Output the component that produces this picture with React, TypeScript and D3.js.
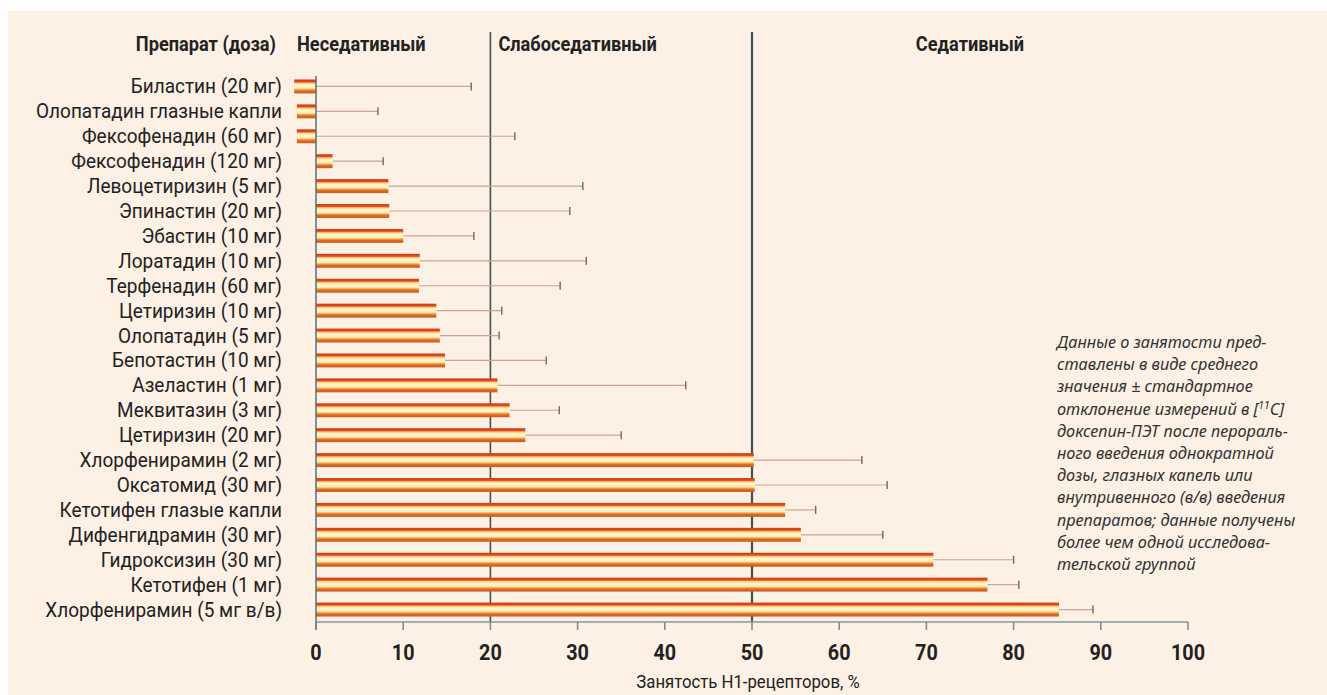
import React from 'react';
import * as d3 from 'd3';

const drugs = [
  'Биластин (20 мг)',
  'Олопатадин глазные капли',
  'Фексофенадин (60 мг)',
  'Фексофенадин (120 мг)',
  'Левоцетиризин (5 мг)',
  'Эпинастин (20 мг)',
  'Эбастин (10 мг)',
  'Лоратадин (10 мг)',
  'Терфенадин (60 мг)',
  'Цетиризин (10 мг)',
  'Олопатадин (5 мг)',
  'Бепотастин (10 мг)',
  'Азеластин (1 мг)',
  'Меквитазин (3 мг)',
  'Цетиризин (20 мг)',
  'Хлорфенирамин (2 мг)',
  'Оксатомид (30 мг)',
  'Кетотифен глазые капли',
  'Дифенгидрамин (30 мг)',
  'Гидроксизин (30 мг)',
  'Кетотифен (1 мг)',
  'Хлорфенирамин (5 мг в/в)',
];

const means = [-2.5, -2.2, -2.2, 1.9, 8.3, 8.4, 10.0, 11.9, 11.8, 13.8, 14.2, 14.8, 20.8, 22.2, 24.0, 50.2, 50.3, 53.8, 55.6, 70.8, 77.0, 85.2];
const sds = [20.3, 9.3, 25.0, 5.8, 22.3, 20.7, 8.1, 19.1, 16.2, 7.5, 6.8, 11.6, 21.6, 5.7, 11.0, 12.4, 15.2, 3.5, 9.4, 9.2, 3.6, 3.9];

const xTicks = [0, 10, 20, 30, 40, 50, 60, 70, 80, 90, 100];
const zoneBounds = [20, 50];
const zoneLabels = ['Неседативный', 'Слабоседативный', 'Седативный'];
const columnTitle = 'Препарат (доза)';
const axisTitle = 'Занятость Н1-рецепторов, %';

const noteLines = [
  'Данные о занятости пред-',
  'ставлены в виде среднего',
  'значения ± стандартное',
  'отклонение измерений в [',
  'доксепин-ПЭТ после перораль-',
  'ного введения однократной',
  'дозы, глазных капель или',
  'внутривенного (в/в) введения',
  'препаратов; данные получены',
  'более чем одной исследова-',
  'тельской группой',
];

const font = 'Roboto, "Noto Sans", sans-serif';

function SText(props: {
  x: number;
  y: number;
  sx: number;
  anchor?: string;
  size: number;
  weight?: number;
  dy?: string;
  children: React.ReactNode;
}) {
  const { x, y, sx, anchor, size, weight, dy, children } = props;
  return (
    <text
      transform={`translate(${x},${y}) scale(${sx},1)`}
      textAnchor={anchor || 'start'}
      fontFamily={font}
      fontSize={size}
      fontWeight={weight || 400}
      dy={dy}
      fill="#222"
    >
      {children}
    </text>
  );
}

export default function App() {
  const W = 1327;
  const H = 695;
  const x = d3.scaleLinear().domain([0, 100]).range([316, 1188]);
  const y = d3
    .scaleBand<string>()
    .domain(drugs)
    .range([74, 622])
    .paddingInner(0.44)
    .paddingOuter(0.22);
  const bw = y.bandwidth();
  const axisY = 622;

  return (
    <svg
      width={W}
      height={H}
      style={{ position: 'absolute', left: 0, top: 0, display: 'block' }}
    >
      <defs>
        <linearGradient id="barGrad" x1="0" y1="0" x2="0" y2="1">
          <stop offset="0%" stopColor="#cf3f1a" />
          <stop offset="17%" stopColor="#e2481a" />
          <stop offset="27%" stopColor="#f9cf78" />
          <stop offset="40%" stopColor="#fff5cf" />
          <stop offset="62%" stopColor="#fdecb8" />
          <stop offset="72%" stopColor="#f3a84e" />
          <stop offset="82%" stopColor="#dc6a24" />
          <stop offset="100%" stopColor="#cc5c20" />
        </linearGradient>
      </defs>
      <rect x={0} y={0} width={W} height={H} fill="#ffffff" />
      <rect x={8} y={11} width={W - 8} height={H - 11} fill="#fdf0e4" />

      {/* header */}
      <SText x={276} y={51} sx={0.91} anchor="end" size={20} weight={700}>
        {columnTitle}
      </SText>
      <SText x={297} y={51} sx={0.91} size={20} weight={700}>
        {zoneLabels[0]}
      </SText>
      <SText x={x(zoneBounds[0]) + 8} y={51} sx={0.91} size={20} weight={700}>
        {zoneLabels[1]}
      </SText>
      <SText x={970} y={51} sx={0.91} anchor="middle" size={20} weight={700}>
        {zoneLabels[2]}
      </SText>

      {/* zone lines */}
      {zoneBounds.map((b, i) => (
        <line
          key={b}
          x1={x(b)}
          x2={x(b)}
          y1={32}
          y2={axisY}
          stroke="#3d5457"
          strokeWidth={i === 0 ? 1.6 : 2.2}
        />
      ))}

      {/* error bars */}
      {drugs.map((d, i) => {
        const cy = (y(d) as number) + bw / 2;
        const x1 = x(means[i]);
        const x2 = x(means[i] + sds[i]);
        return (
          <g key={'e' + d}>
            <line x1={x1} x2={x2} y1={cy} y2={cy} stroke="#cda592" strokeWidth={1.2} />
            <line x1={x2} x2={x2} y1={cy - 4} y2={cy + 4} stroke="#6f6a66" strokeWidth={1.4} />
          </g>
        );
      })}

      {/* bars */}
      {drugs.map((d, i) => {
        const x0 = x(Math.min(0, means[i]));
        const x1 = x(Math.max(0, means[i]));
        return (
          <rect
            key={'b' + d}
            x={x0}
            y={y(d)}
            width={Math.max(0, x1 - x0)}
            height={bw}
            fill="url(#barGrad)"
          />
        );
      })}

      {/* baseline */}
      <line x1={x(0)} x2={x(0)} y1={76} y2={axisY + 8} stroke="#5a7078" strokeWidth={1.5} />

      {/* axis */}
      <line x1={x(0)} x2={x(100)} y1={axisY} y2={axisY} stroke="#7f9aa3" strokeWidth={1.5} />
      {xTicks.map((t) => (
        <g key={'t' + t}>
          <line x1={x(t)} x2={x(t)} y1={axisY} y2={axisY + 8} stroke="#6f8a94" strokeWidth={1.5} />
          <SText x={x(t)} y={660} sx={0.9} anchor="middle" size={22} weight={700}>
            {t}
          </SText>
        </g>
      ))}
      <SText x={748} y={688} sx={0.93} anchor="middle" size={18}>
        {axisTitle}
      </SText>

      {/* labels */}
      {drugs.map((d) => (
        <SText key={'l' + d} x={282} y={(y(d) as number) + bw / 2} dy="0.35em" sx={0.95} anchor="end" size={20}>
          {d}
        </SText>
      ))}

      {/* note */}
      <g fontFamily='"Noto Sans", "Open Sans", sans-serif' fontStyle="italic" fontSize={16.3} fill="#333">
        {noteLines.map((ln, i) => (
          <text key={'n' + i} x={1057} y={348 + i * 22.2}>
            {i === 3 ? (
              <>
                {ln}
                <tspan fontSize={10.5} dy={-6}>11</tspan>
                <tspan dy={6}>C]</tspan>
              </>
            ) : (
              ln
            )}
          </text>
        ))}
      </g>
    </svg>
  );
}
